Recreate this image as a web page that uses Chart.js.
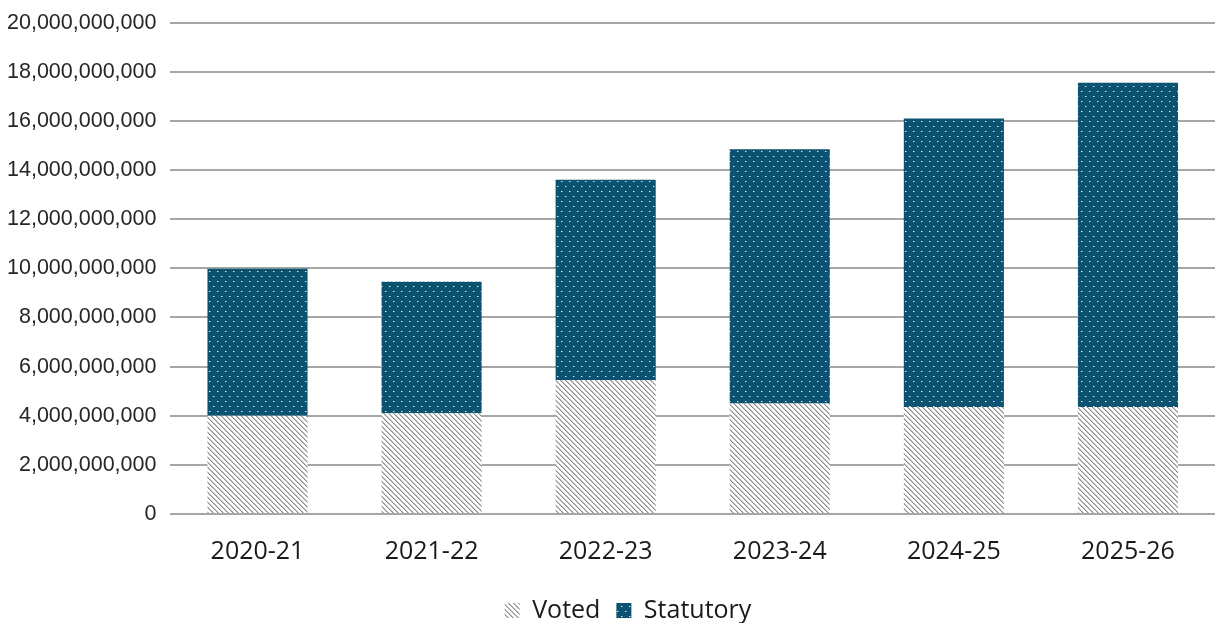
<!DOCTYPE html>
<html>
<head>
<meta charset="utf-8">
<script src="https://cdn.jsdelivr.net/npm/chart.js@4"></script>
<style>
  html, body { margin: 0; padding: 0; background: #fff; }
  #wrap { width: 1215px; height: 623px; position: relative; }
</style>
</head>
<body>
<div id="wrap"><canvas id="chart"></canvas></div>
<script>
const years = ['2020-21', '2021-22', '2022-23', '2023-24', '2024-25', '2025-26'];
const voted = [4.0e9, 4.1e9, 5.45e9, 4.5e9, 4.35e9, 4.35e9];
const statutory = [5.98e9, 5.35e9, 8.15e9, 10.35e9, 11.75e9, 13.2e9];

// diagonal hatch for Voted
function hatchPattern() {
  const c = document.createElement('canvas');
  c.width = 5; c.height = 5;
  const g = c.getContext('2d');
  g.fillStyle = '#ffffff';
  g.fillRect(0, 0, 5, 5);
  for (let i = 0; i < 5; i++) {
    g.fillStyle = '#8c8c8c';
    g.fillRect(i, i, 1, 1);
    g.fillStyle = '#c4c4c4';
    g.fillRect((i + 1) % 5, i, 1, 1);
  }
  return g.createPattern(c, 'repeat');
}

// teal with small white dots for Statutory
function dotPattern() {
  const c = document.createElement('canvas');
  c.width = 8; c.height = 10;
  const g = c.getContext('2d');
  g.fillStyle = '#0b5370';
  g.fillRect(0, 0, 8, 10);
  g.fillStyle = '#dfe9ee';
  g.fillRect(1, 1, 1, 1);
  g.fillRect(5, 6, 1, 1);
  g.fillStyle = '#6f97aa';
  g.fillRect(2, 1, 1, 1);
  g.fillRect(6, 6, 1, 1);
  return g.createPattern(c, 'repeat');
}

// nudge the legend a little right, as in the original
const legendShift = {
  id: 'legendShift',
  afterLayout(chart) {
    chart.legend.left += 24;
    chart.legend.right += 24;
  }
};

const ctx = document.getElementById('chart').getContext('2d');
new Chart(ctx, {
  type: 'bar',
  data: {
    labels: years,
    datasets: [
      {
        label: 'Voted',
        data: voted,
        backgroundColor: hatchPattern(),
        borderWidth: 0,
        categoryPercentage: 1.0,
        barPercentage: 0.575
      },
      {
        label: 'Statutory',
        data: statutory,
        backgroundColor: dotPattern(),
        borderWidth: 0,
        categoryPercentage: 1.0,
        barPercentage: 0.575
      }
    ]
  },
  plugins: [legendShift],
  options: {
    responsive: true,
    maintainAspectRatio: false,
    animation: false,
    layout: { padding: { top: -2, right: 0, left: -7, bottom: -10 } },
    scales: {
      x: {
        stacked: true,
        grid: { display: false },
        border: { display: false },
        ticks: {
          color: '#1a1a1a',
          font: { family: '"Open Sans", sans-serif', size: 25 },
          padding: 15
        }
      },
      y: {
        stacked: true,
        min: 0,
        max: 20e9,
        border: { display: false },
        grid: { color: '#a6a6a6', lineWidth: 2, drawTicks: false },
        ticks: {
          stepSize: 2e9,
          color: '#262626',
          padding: 14,
          font: { family: '"Liberation Sans", Arial, sans-serif', size: 21.5, lineHeight: 0.8 },
          callback: v => v.toLocaleString('en-US')
        }
      }
    },
    plugins: {
      legend: {
        position: 'bottom',
        labels: {
          color: '#1a1a1a',
          font: { family: '"Open Sans", sans-serif', size: 25 },
          boxWidth: 15,
          boxHeight: 15,
          padding: 16
        }
      },
      tooltip: { enabled: false }
    }
  }
});
</script>
</body>
</html>
